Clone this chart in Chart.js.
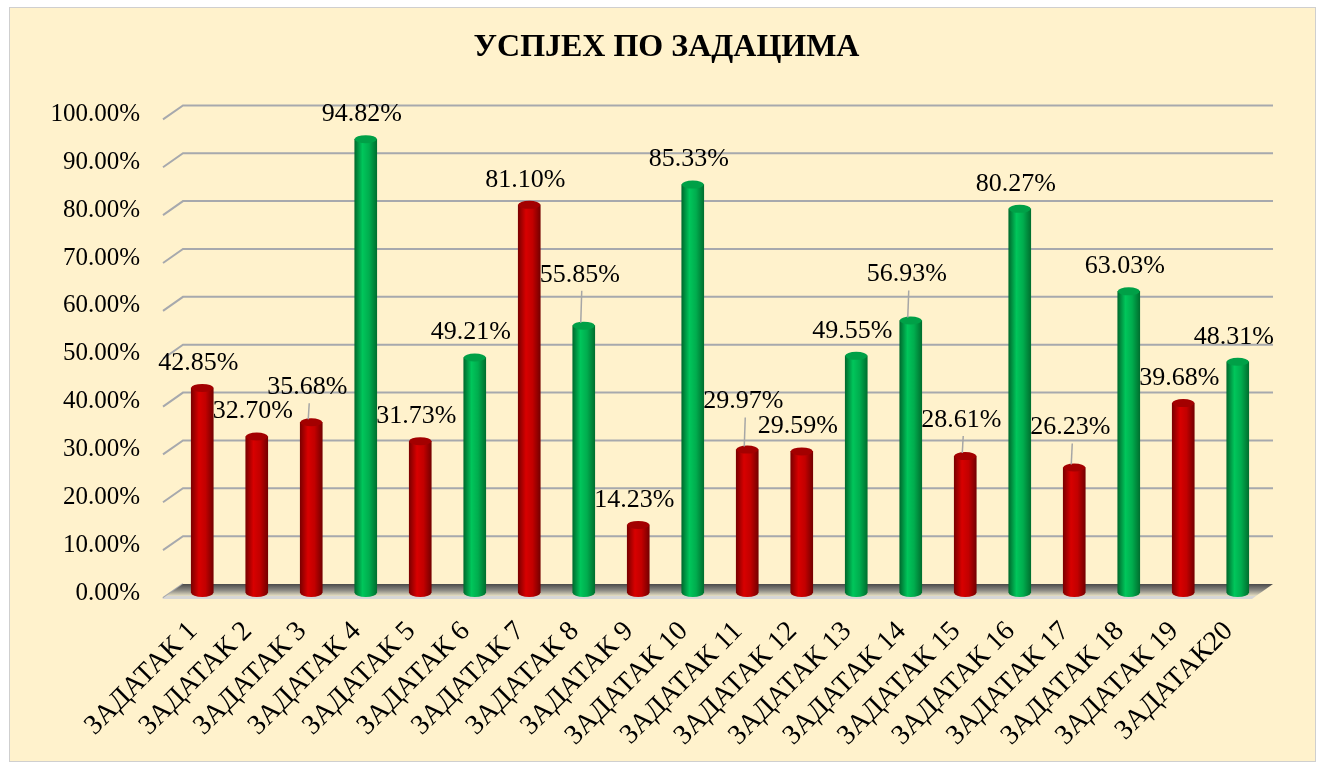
<!DOCTYPE html>
<html>
<head>
<meta charset="utf-8">
<title>Успјех по задацима</title>
<script src="https://cdn.jsdelivr.net/npm/chart.js@4.4.0/dist/chart.umd.min.js"></script>
<style>
    body { margin: 0; background: #ffffff; }
    #box {
        position: absolute; left: 9px; top: 7px;
        width: 1305px; height: 753px;
        border: 1px solid #cfcfcf; background: #fff2cc;
    }
</style>
</head>
<body>
<div id="box"><canvas id="chart" width="1305" height="753"></canvas></div>
<script>
// values
const tasks = ["ЗАДАТАК 1", "ЗАДАТАК 2", "ЗАДАТАК 3", "ЗАДАТАК 4", "ЗАДАТАК 5",
    "ЗАДАТАК 6", "ЗАДАТАК 7", "ЗАДАТАК 8", "ЗАДАТАК 9", "ЗАДАТАК 10",
    "ЗАДАТАК 11", "ЗАДАТАК 12", "ЗАДАТАК 13", "ЗАДАТАК 14", "ЗАДАТАК 15",
    "ЗАДАТАК 16", "ЗАДАТАК 17", "ЗАДАТАК 18", "ЗАДАТАК 19", "ЗАДАТАК20"];
const success = [42.85, 32.70, 35.68, 94.82, 31.73, 49.21, 81.10, 55.85, 14.23, 85.33,
    29.97, 29.59, 49.55, 56.93, 28.61, 80.27, 26.23, 63.03, 39.68, 48.31];
const barGroup = ["red", "red", "red", "green", "red", "green", "red", "green", "red", "green",
    "red", "red", "green", "green", "red", "green", "red", "green", "red", "green"];
const yTicks = [0, 10, 20, 30, 40, 50, 60, 70, 80, 90, 100];

const FONT = '"Liberation Serif", "Times New Roman", serif';
const BAR_W = 22;
const shades = {
    red:   ["#7c0000", "#d80000", "#c20000", "#760000"],
    green: ["#006b2e", "#00c65b", "#00ad4e", "#00702f"]
};
const caps = { red: "#a30000", green: "#00a047" };

function cylGradient(c, x, pal) {
    const g = c.createLinearGradient(x - BAR_W / 2, 0, x + BAR_W / 2, 0);
    g.addColorStop(0, pal[0]);
    g.addColorStop(0.35, pal[1]);
    g.addColorStop(0.65, pal[2]);
    g.addColorStop(1, pal[3]);
    return g;
}

// grid with the little 3d stubs, floor, cylinder ends and value labels
const decor = {
    id: "decor",
    beforeDatasetsDraw(chart) {
        const c = chart.ctx;
        const a = chart.chartArea;
        const ys = chart.scales.y;
        c.save();
        c.strokeStyle = "#a7a9ad";
        c.lineWidth = 2;
        yTicks.forEach(v => {
            const y = ys.getPixelForValue(v);
            c.beginPath();
            c.moveTo(a.left - 12, y + 5);
            c.lineTo(a.left + 8, y - 9);
            if (v > 0) c.lineTo(a.right + 8, y - 9);
            c.stroke();
        });
        // floor
        const y0 = ys.getPixelForValue(0);
        const fg = c.createLinearGradient(0, y0 - 9, 0, y0 + 3);
        fg.addColorStop(0, "#4a4a4a");
        fg.addColorStop(0.55, "#8f8d86");
        fg.addColorStop(1, "#e6dfc4");
        c.fillStyle = fg;
        c.beginPath();
        c.moveTo(a.left + 8, y0 - 9);
        c.lineTo(a.right + 8, y0 - 9);
        c.lineTo(a.right - 9, y0 + 3);
        c.lineTo(a.left - 9, y0 + 3);
        c.closePath();
        c.fill();
        c.fillStyle = "#d6d6d6";
        c.beginPath();
        c.moveTo(a.left - 9, y0 + 3);
        c.lineTo(a.right - 9, y0 + 3);
        c.lineTo(a.right - 13, y0 + 6);
        c.lineTo(a.left - 13, y0 + 6);
        c.closePath();
        c.fill();
        c.restore();
    },
    afterDatasetsDraw(chart, args, opts) {
        const c = chart.ctx;
        const meta = chart.getDatasetMeta(0);
        c.save();
        meta.data.forEach((bar, i) => {
            const g = barGroup[i];
            c.fillStyle = cylGradient(c, bar.x, shades[g]);
            c.beginPath();
            c.ellipse(bar.x, bar.base, BAR_W / 2, 4, 0, 0, Math.PI);
            c.fill();
            c.fillStyle = caps[g];
            c.beginPath();
            c.ellipse(bar.x, bar.y, BAR_W / 2, 4, 0, 0, Math.PI * 2);
            c.fill();
        });
        c.font = opts.size + "px " + FONT;
        c.textAlign = "center";
        c.textBaseline = "middle";
        meta.data.forEach((bar, i) => {
            const lift = opts.lifted[i] || 0;
            const lx = bar.x - 4;
            const ly = bar.y - 25 - lift;
            if (lift > 0) {
                // leader line from moved label down to the cylinder
                c.strokeStyle = "#a6a6a6";
                c.lineWidth = 1.5;
                c.beginPath();
                c.moveTo(lx + 2, ly + 16);
                c.lineTo(bar.x - 3, bar.y - 3);
                c.stroke();
            }
            c.fillStyle = "#000000";
            c.fillText(success[i].toFixed(2) + "%", lx, ly);
        });
        c.restore();
    }
};

const chart = new Chart(document.getElementById("chart"), {
    type: "bar",
    data: {
        labels: tasks,
        datasets: [{
            label: "Успјех",
            data: success,
            barThickness: BAR_W,
            borderWidth: 0,
            backgroundColor: function (ctx) {
                const pal = shades[barGroup[ctx.dataIndex]] || shades.red;
                const ch = ctx.chart;
                if (!ch.chartArea || ctx.type !== "data") return pal[2];
                const x = ch.scales.x.getPixelForValue(ctx.dataIndex);
                return cylGradient(ch.ctx, x, pal);
            }
        }]
    },
    plugins: [decor],
    options: {
        responsive: false,
        animation: false,
        events: [],
        layout: { padding: { left: 8, right: 0, top: 0, bottom: 0 } },
        plugins: {
            legend: { display: false },
            tooltip: { enabled: false },
            title: {
                display: true,
                text: "УСПЈЕХ ПО ЗАДАЦИМА",
                color: "#000000",
                font: { family: FONT, size: 32, weight: "bold" },
                padding: { top: 21, bottom: 47 }
            },
            // labels that were dragged up in the original, with leader lines
            decor: { size: 26, lifted: { 2: 10, 7: 26, 10: 23, 13: 21, 14: 11, 16: 15 } }
        },
        scales: {
            x: {
                grid: { display: false, drawTicks: false },
                border: { display: false },
                ticks: {
                    autoSkip: false,
                    maxRotation: 45,
                    minRotation: 45,
                    padding: 22,
                    labelOffset: -9,
                    color: "#000000",
                    font: { family: FONT, size: 28 }
                },
                afterFit(s) { s.height = 168; }
            },
            y: {
                min: 0,
                max: 100,
                grid: { display: false, drawTicks: false },
                border: { display: false },
                ticks: {
                    stepSize: 10,
                    padding: 35,
                    color: "#000000",
                    font: { family: FONT, size: 25 },
                    callback: v => v.toFixed(2) + "%"
                },
                afterFit(s) { s.width = 157; }
            },
            yRight: {
                position: "right",
                grid: { display: false, drawTicks: false },
                border: { display: false },
                ticks: { display: false },
                afterFit(s) { s.width = 50; }
            }
        }
    }
});
</script>
</body>
</html>
